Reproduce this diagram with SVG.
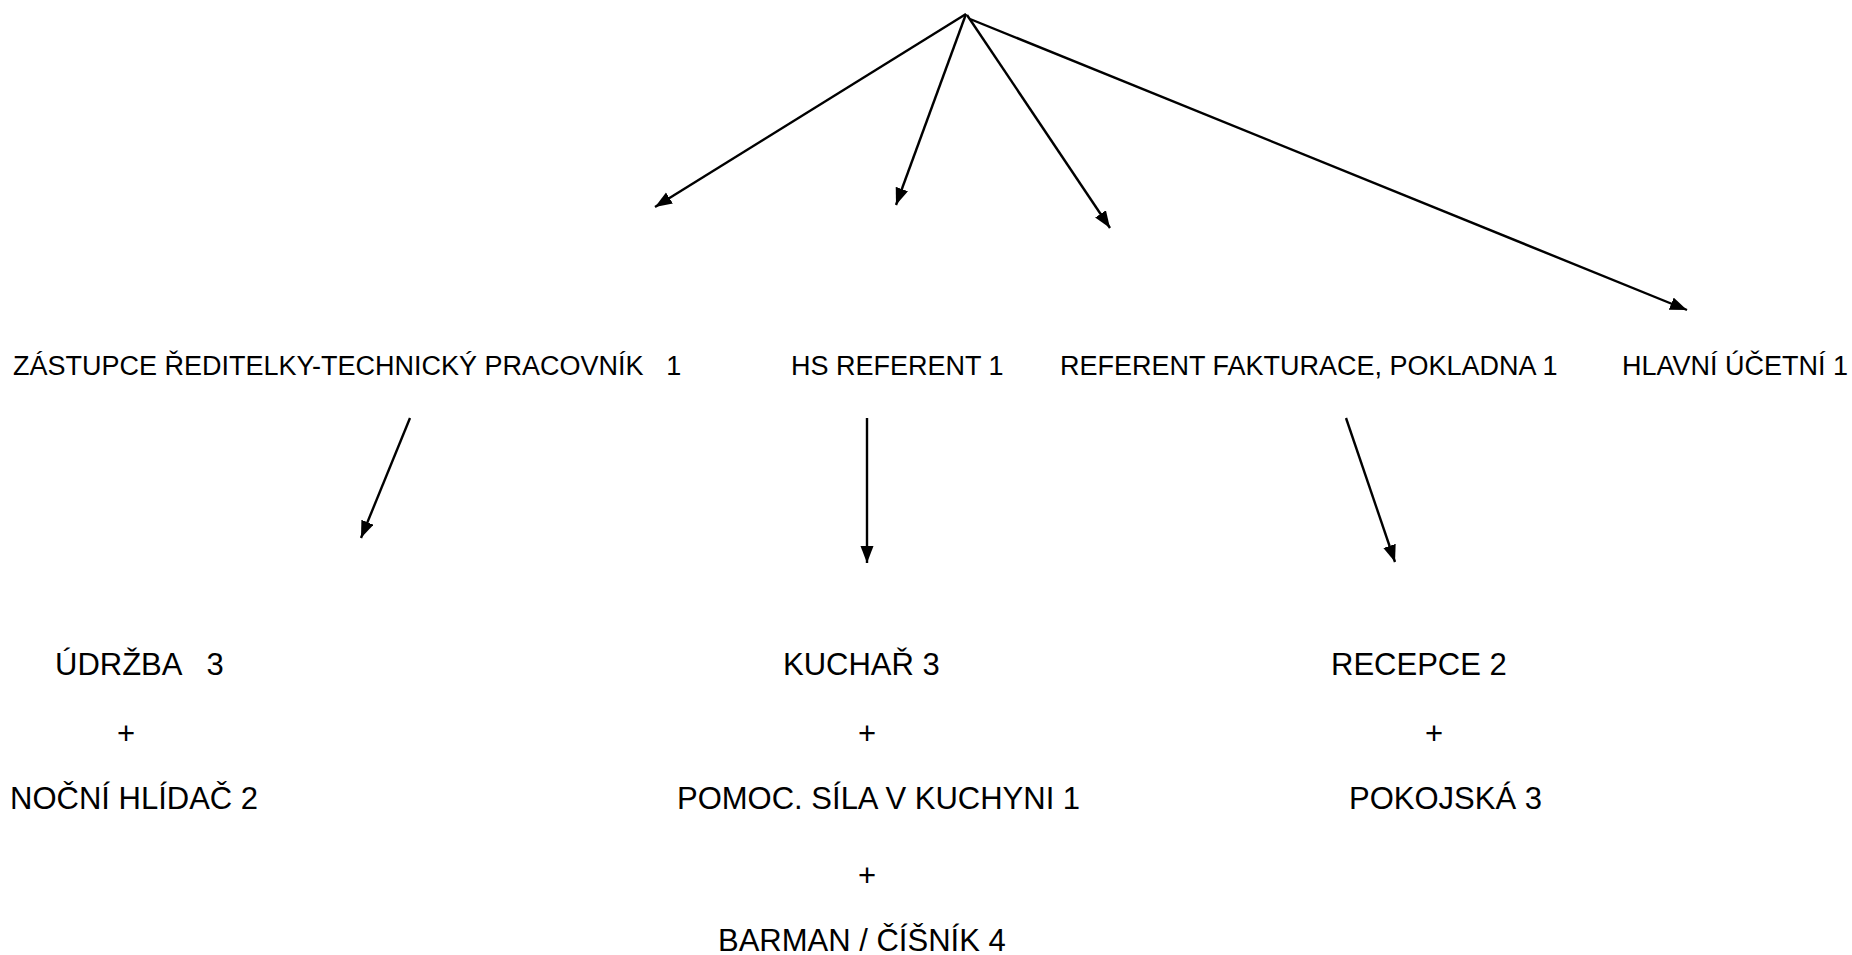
<svg xmlns="http://www.w3.org/2000/svg" width="1852" height="955" viewBox="0 0 1852 955">
<style>
.t1{font-family:"Liberation Sans",Arial,sans-serif;font-size:27px;fill:#000;white-space:pre}
.t2{font-family:"Liberation Sans",Arial,sans-serif;font-size:31px;fill:#000;white-space:pre}
.c{stroke:#000;stroke-width:2.4;fill:none;marker-end:url(#ah)}
</style>
<defs>
<marker id="ah" markerUnits="userSpaceOnUse" markerWidth="18" markerHeight="14" refX="17" refY="6.5" orient="auto">
<path d="M0,0 L17,6.5 L0,13 z" fill="#000"/>
</marker>
</defs>
<rect width="1852" height="955" fill="#fff"/>
<g id="connectors">
<line class="c" x1="966" y1="14" x2="655" y2="207"/>
<line class="c" x1="966" y1="14" x2="896" y2="205"/>
<line class="c" x1="967" y1="15" x2="1110" y2="228"/>
<line class="c" x1="970" y1="19" x2="1687" y2="310"/>
<line class="c" x1="410" y1="418" x2="361" y2="538"/>
<line class="c" x1="867" y1="418" x2="867" y2="563"/>
<line class="c" x1="1346" y1="418" x2="1395" y2="562"/>
</g>
<g id="n-zastupce"><text class="t1" x="13" y="375" xml:space="preserve">ZÁSTUPCE ŘEDITELKY-TECHNICKÝ PRACOVNÍK   1</text></g>
<g id="n-hs"><text class="t1" x="791" y="375">HS REFERENT 1</text></g>
<g id="n-referent"><text class="t1" x="1060" y="375">REFERENT FAKTURACE, POKLADNA 1</text></g>
<g id="n-ucetni"><text class="t1" x="1622" y="375">HLAVNÍ ÚČETNÍ 1</text></g>
<g id="n-udrzba">
<text class="t2" x="55" y="675" xml:space="preserve">ÚDRŽBA   3</text>
<text class="t2" x="117" y="744">+</text>
<text class="t2" x="10" y="809">NOČNÍ HLÍDAČ 2</text>
</g>
<g id="n-kuchar">
<text class="t2" x="783" y="675">KUCHAŘ 3</text>
<text class="t2" x="858" y="744">+</text>
<text class="t2" x="677" y="809">POMOC. SÍLA V KUCHYNI 1</text>
<text class="t2" x="858" y="886">+</text>
<text class="t2" x="718" y="951">BARMAN / ČÍŠNÍK 4</text>
</g>
<g id="n-recepce">
<text class="t2" x="1331" y="675">RECEPCE 2</text>
<text class="t2" x="1425" y="744">+</text>
<text class="t2" x="1349" y="809">POKOJSKÁ 3</text>
</g>
</svg>
